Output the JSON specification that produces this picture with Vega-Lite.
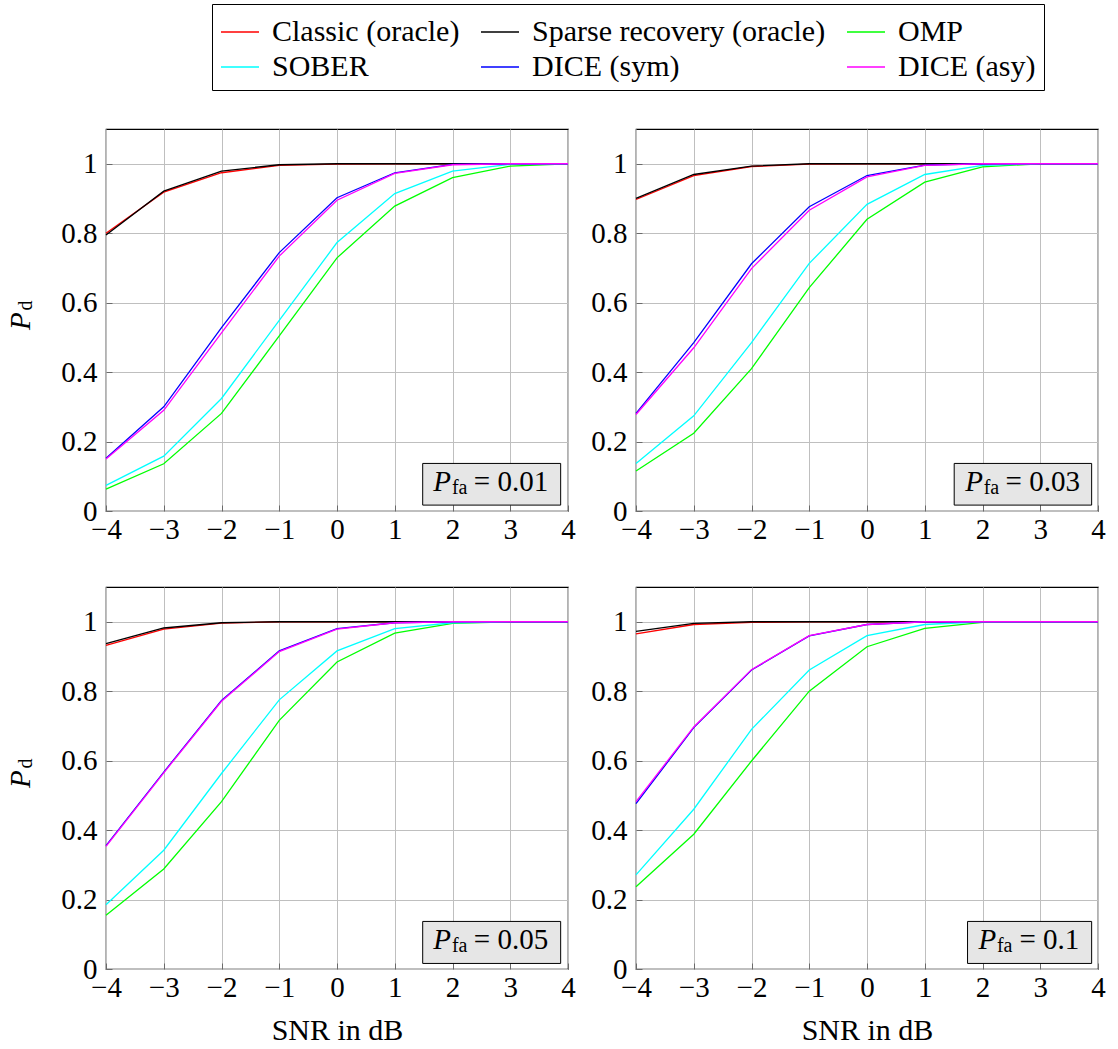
{
"$schema": "https://vega.github.io/schema/vega-lite/v6.json",
"autosize": {"type": "pad"},
"padding": {"left": 6, "top": 3, "right": 5, "bottom": 5},
"background": "white",
"config": {
  "font": "Liberation Serif",
  "view": {"stroke": "black", "strokeWidth": 1.2},
  "axis": {"grid": true, "gridColor": "#bfbfbf", "gridWidth": 1, "domain": false, "tickColor": "#6a6a6a", "tickSize": -6, "tickWidth": 1,
    "labelFont": "Liberation Serif", "labelFontSize": 29, "labelColor": "black", "labelFlush": false, "labelOverlap": false, "labelPadding": 10,
    "titleFont": "Liberation Serif", "titleFontSize": 30, "titleFontWeight": "normal", "titleColor": "black", "titlePadding": 13},
  "axisY": {"labelPadding": 15},
  "legend": {"labelFont": "Liberation Serif", "labelFontSize": 30, "labelColor": "black", "labelLimit": 600}
},
"data": {"name": "d"},
"datasets": {"d": [
{"pfa":"0.01","method":"Classic (oracle)","snr":-4,"pd":0.800},{"pfa":"0.01","method":"Classic (oracle)","snr":-3,"pd":0.918},{"pfa":"0.01","method":"Classic (oracle)","snr":-2,"pd":0.974},{"pfa":"0.01","method":"Classic (oracle)","snr":-1,"pd":0.995},{"pfa":"0.01","method":"Classic (oracle)","snr":0,"pd":0.999},{"pfa":"0.01","method":"Classic (oracle)","snr":1,"pd":1},{"pfa":"0.01","method":"Classic (oracle)","snr":2,"pd":1},{"pfa":"0.01","method":"Classic (oracle)","snr":3,"pd":1},{"pfa":"0.01","method":"Classic (oracle)","snr":4,"pd":1},
{"pfa":"0.01","method":"Sparse recovery (oracle)","snr":-4,"pd":0.795},{"pfa":"0.01","method":"Sparse recovery (oracle)","snr":-3,"pd":0.921},{"pfa":"0.01","method":"Sparse recovery (oracle)","snr":-2,"pd":0.979},{"pfa":"0.01","method":"Sparse recovery (oracle)","snr":-1,"pd":0.997},{"pfa":"0.01","method":"Sparse recovery (oracle)","snr":0,"pd":1},{"pfa":"0.01","method":"Sparse recovery (oracle)","snr":1,"pd":1},{"pfa":"0.01","method":"Sparse recovery (oracle)","snr":2,"pd":1},{"pfa":"0.01","method":"Sparse recovery (oracle)","snr":3,"pd":1},{"pfa":"0.01","method":"Sparse recovery (oracle)","snr":4,"pd":1},
{"pfa":"0.01","method":"OMP","snr":-4,"pd":0.063},{"pfa":"0.01","method":"OMP","snr":-3,"pd":0.136},{"pfa":"0.01","method":"OMP","snr":-2,"pd":0.281},{"pfa":"0.01","method":"OMP","snr":-1,"pd":0.504},{"pfa":"0.01","method":"OMP","snr":0,"pd":0.729},{"pfa":"0.01","method":"OMP","snr":1,"pd":0.878},{"pfa":"0.01","method":"OMP","snr":2,"pd":0.960},{"pfa":"0.01","method":"OMP","snr":3,"pd":0.993},{"pfa":"0.01","method":"OMP","snr":4,"pd":1},
{"pfa":"0.01","method":"SOBER","snr":-4,"pd":0.074},{"pfa":"0.01","method":"SOBER","snr":-3,"pd":0.158},{"pfa":"0.01","method":"SOBER","snr":-2,"pd":0.324},{"pfa":"0.01","method":"SOBER","snr":-1,"pd":0.549},{"pfa":"0.01","method":"SOBER","snr":0,"pd":0.773},{"pfa":"0.01","method":"SOBER","snr":1,"pd":0.914},{"pfa":"0.01","method":"SOBER","snr":2,"pd":0.979},{"pfa":"0.01","method":"SOBER","snr":3,"pd":0.998},{"pfa":"0.01","method":"SOBER","snr":4,"pd":1},
{"pfa":"0.01","method":"DICE (sym)","snr":-4,"pd":0.152},{"pfa":"0.01","method":"DICE (sym)","snr":-3,"pd":0.300},{"pfa":"0.01","method":"DICE (sym)","snr":-2,"pd":0.528},{"pfa":"0.01","method":"DICE (sym)","snr":-1,"pd":0.744},{"pfa":"0.01","method":"DICE (sym)","snr":0,"pd":0.902},{"pfa":"0.01","method":"DICE (sym)","snr":1,"pd":0.974},{"pfa":"0.01","method":"DICE (sym)","snr":2,"pd":0.998},{"pfa":"0.01","method":"DICE (sym)","snr":3,"pd":1},{"pfa":"0.01","method":"DICE (sym)","snr":4,"pd":1},
{"pfa":"0.01","method":"DICE (asy)","snr":-4,"pd":0.150},{"pfa":"0.01","method":"DICE (asy)","snr":-3,"pd":0.290},{"pfa":"0.01","method":"DICE (asy)","snr":-2,"pd":0.513},{"pfa":"0.01","method":"DICE (asy)","snr":-1,"pd":0.734},{"pfa":"0.01","method":"DICE (asy)","snr":0,"pd":0.895},{"pfa":"0.01","method":"DICE (asy)","snr":1,"pd":0.972},{"pfa":"0.01","method":"DICE (asy)","snr":2,"pd":0.997},{"pfa":"0.01","method":"DICE (asy)","snr":3,"pd":1},{"pfa":"0.01","method":"DICE (asy)","snr":4,"pd":1},

{"pfa":"0.03","method":"Classic (oracle)","snr":-4,"pd":0.897},{"pfa":"0.03","method":"Classic (oracle)","snr":-3,"pd":0.966},{"pfa":"0.03","method":"Classic (oracle)","snr":-2,"pd":0.992},{"pfa":"0.03","method":"Classic (oracle)","snr":-1,"pd":0.999},{"pfa":"0.03","method":"Classic (oracle)","snr":0,"pd":1},{"pfa":"0.03","method":"Classic (oracle)","snr":1,"pd":1},{"pfa":"0.03","method":"Classic (oracle)","snr":2,"pd":1},{"pfa":"0.03","method":"Classic (oracle)","snr":3,"pd":1},{"pfa":"0.03","method":"Classic (oracle)","snr":4,"pd":1},
{"pfa":"0.03","method":"Sparse recovery (oracle)","snr":-4,"pd":0.900},{"pfa":"0.03","method":"Sparse recovery (oracle)","snr":-3,"pd":0.969},{"pfa":"0.03","method":"Sparse recovery (oracle)","snr":-2,"pd":0.993},{"pfa":"0.03","method":"Sparse recovery (oracle)","snr":-1,"pd":1},{"pfa":"0.03","method":"Sparse recovery (oracle)","snr":0,"pd":1},{"pfa":"0.03","method":"Sparse recovery (oracle)","snr":1,"pd":1},{"pfa":"0.03","method":"Sparse recovery (oracle)","snr":2,"pd":1},{"pfa":"0.03","method":"Sparse recovery (oracle)","snr":3,"pd":1},{"pfa":"0.03","method":"Sparse recovery (oracle)","snr":4,"pd":1},
{"pfa":"0.03","method":"OMP","snr":-4,"pd":0.115},{"pfa":"0.03","method":"OMP","snr":-3,"pd":0.224},{"pfa":"0.03","method":"OMP","snr":-2,"pd":0.410},{"pfa":"0.03","method":"OMP","snr":-1,"pd":0.643},{"pfa":"0.03","method":"OMP","snr":0,"pd":0.840},{"pfa":"0.03","method":"OMP","snr":1,"pd":0.947},{"pfa":"0.03","method":"OMP","snr":2,"pd":0.991},{"pfa":"0.03","method":"OMP","snr":3,"pd":1},{"pfa":"0.03","method":"OMP","snr":4,"pd":1},
{"pfa":"0.03","method":"SOBER","snr":-4,"pd":0.137},{"pfa":"0.03","method":"SOBER","snr":-3,"pd":0.274},{"pfa":"0.03","method":"SOBER","snr":-2,"pd":0.485},{"pfa":"0.03","method":"SOBER","snr":-1,"pd":0.713},{"pfa":"0.03","method":"SOBER","snr":0,"pd":0.883},{"pfa":"0.03","method":"SOBER","snr":1,"pd":0.969},{"pfa":"0.03","method":"SOBER","snr":2,"pd":0.995},{"pfa":"0.03","method":"SOBER","snr":3,"pd":1},{"pfa":"0.03","method":"SOBER","snr":4,"pd":1},
{"pfa":"0.03","method":"DICE (sym)","snr":-4,"pd":0.281},{"pfa":"0.03","method":"DICE (sym)","snr":-3,"pd":0.485},{"pfa":"0.03","method":"DICE (sym)","snr":-2,"pd":0.712},{"pfa":"0.03","method":"DICE (sym)","snr":-1,"pd":0.876},{"pfa":"0.03","method":"DICE (sym)","snr":0,"pd":0.966},{"pfa":"0.03","method":"DICE (sym)","snr":1,"pd":0.996},{"pfa":"0.03","method":"DICE (sym)","snr":2,"pd":1},{"pfa":"0.03","method":"DICE (sym)","snr":3,"pd":1},{"pfa":"0.03","method":"DICE (sym)","snr":4,"pd":1},
{"pfa":"0.03","method":"DICE (asy)","snr":-4,"pd":0.278},{"pfa":"0.03","method":"DICE (asy)","snr":-3,"pd":0.470},{"pfa":"0.03","method":"DICE (asy)","snr":-2,"pd":0.698},{"pfa":"0.03","method":"DICE (asy)","snr":-1,"pd":0.866},{"pfa":"0.03","method":"DICE (asy)","snr":0,"pd":0.962},{"pfa":"0.03","method":"DICE (asy)","snr":1,"pd":0.995},{"pfa":"0.03","method":"DICE (asy)","snr":2,"pd":1},{"pfa":"0.03","method":"DICE (asy)","snr":3,"pd":1},{"pfa":"0.03","method":"DICE (asy)","snr":4,"pd":1},

{"pfa":"0.05","method":"Classic (oracle)","snr":-4,"pd":0.932},{"pfa":"0.05","method":"Classic (oracle)","snr":-3,"pd":0.979},{"pfa":"0.05","method":"Classic (oracle)","snr":-2,"pd":0.996},{"pfa":"0.05","method":"Classic (oracle)","snr":-1,"pd":1},{"pfa":"0.05","method":"Classic (oracle)","snr":0,"pd":1},{"pfa":"0.05","method":"Classic (oracle)","snr":1,"pd":1},{"pfa":"0.05","method":"Classic (oracle)","snr":2,"pd":1},{"pfa":"0.05","method":"Classic (oracle)","snr":3,"pd":1},{"pfa":"0.05","method":"Classic (oracle)","snr":4,"pd":1},
{"pfa":"0.05","method":"Sparse recovery (oracle)","snr":-4,"pd":0.937},{"pfa":"0.05","method":"Sparse recovery (oracle)","snr":-3,"pd":0.982},{"pfa":"0.05","method":"Sparse recovery (oracle)","snr":-2,"pd":0.997},{"pfa":"0.05","method":"Sparse recovery (oracle)","snr":-1,"pd":1},{"pfa":"0.05","method":"Sparse recovery (oracle)","snr":0,"pd":1},{"pfa":"0.05","method":"Sparse recovery (oracle)","snr":1,"pd":1},{"pfa":"0.05","method":"Sparse recovery (oracle)","snr":2,"pd":1},{"pfa":"0.05","method":"Sparse recovery (oracle)","snr":3,"pd":1},{"pfa":"0.05","method":"Sparse recovery (oracle)","snr":4,"pd":1},
{"pfa":"0.05","method":"OMP","snr":-4,"pd":0.155},{"pfa":"0.05","method":"OMP","snr":-3,"pd":0.288},{"pfa":"0.05","method":"OMP","snr":-2,"pd":0.482},{"pfa":"0.05","method":"OMP","snr":-1,"pd":0.716},{"pfa":"0.05","method":"OMP","snr":0,"pd":0.884},{"pfa":"0.05","method":"OMP","snr":1,"pd":0.967},{"pfa":"0.05","method":"OMP","snr":2,"pd":0.995},{"pfa":"0.05","method":"OMP","snr":3,"pd":1},{"pfa":"0.05","method":"OMP","snr":4,"pd":1},
{"pfa":"0.05","method":"SOBER","snr":-4,"pd":0.185},{"pfa":"0.05","method":"SOBER","snr":-3,"pd":0.342},{"pfa":"0.05","method":"SOBER","snr":-2,"pd":0.563},{"pfa":"0.05","method":"SOBER","snr":-1,"pd":0.775},{"pfa":"0.05","method":"SOBER","snr":0,"pd":0.916},{"pfa":"0.05","method":"SOBER","snr":1,"pd":0.980},{"pfa":"0.05","method":"SOBER","snr":2,"pd":0.997},{"pfa":"0.05","method":"SOBER","snr":3,"pd":1},{"pfa":"0.05","method":"SOBER","snr":4,"pd":1},
{"pfa":"0.05","method":"DICE (sym)","snr":-4,"pd":0.355},{"pfa":"0.05","method":"DICE (sym)","snr":-3,"pd":0.567},{"pfa":"0.05","method":"DICE (sym)","snr":-2,"pd":0.773},{"pfa":"0.05","method":"DICE (sym)","snr":-1,"pd":0.916},{"pfa":"0.05","method":"DICE (sym)","snr":0,"pd":0.980},{"pfa":"0.05","method":"DICE (sym)","snr":1,"pd":0.997},{"pfa":"0.05","method":"DICE (sym)","snr":2,"pd":1},{"pfa":"0.05","method":"DICE (sym)","snr":3,"pd":1},{"pfa":"0.05","method":"DICE (sym)","snr":4,"pd":1},
{"pfa":"0.05","method":"DICE (asy)","snr":-4,"pd":0.353},{"pfa":"0.05","method":"DICE (asy)","snr":-3,"pd":0.565},{"pfa":"0.05","method":"DICE (asy)","snr":-2,"pd":0.771},{"pfa":"0.05","method":"DICE (asy)","snr":-1,"pd":0.914},{"pfa":"0.05","method":"DICE (asy)","snr":0,"pd":0.979},{"pfa":"0.05","method":"DICE (asy)","snr":1,"pd":0.997},{"pfa":"0.05","method":"DICE (asy)","snr":2,"pd":1},{"pfa":"0.05","method":"DICE (asy)","snr":3,"pd":1},{"pfa":"0.05","method":"DICE (asy)","snr":4,"pd":1},

{"pfa":"0.1","method":"Classic (oracle)","snr":-4,"pd":0.965},{"pfa":"0.1","method":"Classic (oracle)","snr":-3,"pd":0.992},{"pfa":"0.1","method":"Classic (oracle)","snr":-2,"pd":0.998},{"pfa":"0.1","method":"Classic (oracle)","snr":-1,"pd":1},{"pfa":"0.1","method":"Classic (oracle)","snr":0,"pd":1},{"pfa":"0.1","method":"Classic (oracle)","snr":1,"pd":1},{"pfa":"0.1","method":"Classic (oracle)","snr":2,"pd":1},{"pfa":"0.1","method":"Classic (oracle)","snr":3,"pd":1},{"pfa":"0.1","method":"Classic (oracle)","snr":4,"pd":1},
{"pfa":"0.1","method":"Sparse recovery (oracle)","snr":-4,"pd":0.972},{"pfa":"0.1","method":"Sparse recovery (oracle)","snr":-3,"pd":0.995},{"pfa":"0.1","method":"Sparse recovery (oracle)","snr":-2,"pd":1},{"pfa":"0.1","method":"Sparse recovery (oracle)","snr":-1,"pd":1},{"pfa":"0.1","method":"Sparse recovery (oracle)","snr":0,"pd":1},{"pfa":"0.1","method":"Sparse recovery (oracle)","snr":1,"pd":1},{"pfa":"0.1","method":"Sparse recovery (oracle)","snr":2,"pd":1},{"pfa":"0.1","method":"Sparse recovery (oracle)","snr":3,"pd":1},{"pfa":"0.1","method":"Sparse recovery (oracle)","snr":4,"pd":1},
{"pfa":"0.1","method":"OMP","snr":-4,"pd":0.237},{"pfa":"0.1","method":"OMP","snr":-3,"pd":0.388},{"pfa":"0.1","method":"OMP","snr":-2,"pd":0.599},{"pfa":"0.1","method":"OMP","snr":-1,"pd":0.800},{"pfa":"0.1","method":"OMP","snr":0,"pd":0.928},{"pfa":"0.1","method":"OMP","snr":1,"pd":0.981},{"pfa":"0.1","method":"OMP","snr":2,"pd":0.998},{"pfa":"0.1","method":"OMP","snr":3,"pd":1},{"pfa":"0.1","method":"OMP","snr":4,"pd":1},
{"pfa":"0.1","method":"SOBER","snr":-4,"pd":0.271},{"pfa":"0.1","method":"SOBER","snr":-3,"pd":0.460},{"pfa":"0.1","method":"SOBER","snr":-2,"pd":0.690},{"pfa":"0.1","method":"SOBER","snr":-1,"pd":0.861},{"pfa":"0.1","method":"SOBER","snr":0,"pd":0.960},{"pfa":"0.1","method":"SOBER","snr":1,"pd":0.992},{"pfa":"0.1","method":"SOBER","snr":2,"pd":1},{"pfa":"0.1","method":"SOBER","snr":3,"pd":1},{"pfa":"0.1","method":"SOBER","snr":4,"pd":1},
{"pfa":"0.1","method":"DICE (sym)","snr":-4,"pd":0.476},{"pfa":"0.1","method":"DICE (sym)","snr":-3,"pd":0.695},{"pfa":"0.1","method":"DICE (sym)","snr":-2,"pd":0.861},{"pfa":"0.1","method":"DICE (sym)","snr":-1,"pd":0.959},{"pfa":"0.1","method":"DICE (sym)","snr":0,"pd":0.992},{"pfa":"0.1","method":"DICE (sym)","snr":1,"pd":1},{"pfa":"0.1","method":"DICE (sym)","snr":2,"pd":1},{"pfa":"0.1","method":"DICE (sym)","snr":3,"pd":1},{"pfa":"0.1","method":"DICE (sym)","snr":4,"pd":1},
{"pfa":"0.1","method":"DICE (asy)","snr":-4,"pd":0.482},{"pfa":"0.1","method":"DICE (asy)","snr":-3,"pd":0.697},{"pfa":"0.1","method":"DICE (asy)","snr":-2,"pd":0.862},{"pfa":"0.1","method":"DICE (asy)","snr":-1,"pd":0.960},{"pfa":"0.1","method":"DICE (asy)","snr":0,"pd":0.992},{"pfa":"0.1","method":"DICE (asy)","snr":1,"pd":1},{"pfa":"0.1","method":"DICE (asy)","snr":2,"pd":1},{"pfa":"0.1","method":"DICE (asy)","snr":3,"pd":1},{"pfa":"0.1","method":"DICE (asy)","snr":4,"pd":1}
]},
"bounds": "flush",
"columns": 2,
"spacing": {"row": 76, "column": 68},
"concat": [
  {"width": 462, "height": 382, "layer": [
   {"transform": [{"filter": "datum.pfa == '0.01'"}],
    "mark": {"type": "line", "strokeWidth": 1.3},
    "encoding": {
     "x": {"field": "snr", "type": "quantitative", "scale": {"domain": [-4, 4], "nice": false, "zero": false}, "axis": {"values": [-4,-3,-2,-1,0,1,2,3,4], "format": "~g", "title": null}},
     "y": {"field": "pd", "type": "quantitative", "scale": {"domain": [0, 1.1], "nice": false}, "axis": {"values": [0,0.2,0.4,0.6,0.8,1], "format": "~g", "title": null}},
     "color": {"field": "method", "type": "nominal", "scale": {"domain": ["Classic (oracle)","Sparse recovery (oracle)","OMP","SOBER","DICE (sym)","DICE (asy)"], "range": ["#ff0000","#000000","#00ff00","#00ffff","#0000ff","#ff00ff"]},
       "legend": {"title": null, "orient": "none", "legendX": 106, "legendY": -125, "columns": 3, "direction": "horizontal", "symbolType": "stroke", "symbolSize": 1444, "symbolStrokeWidth": 1.3, "labelOffset": 12, "columnPadding": 18, "rowPadding": 0, "padding": 8, "strokeColor": "black", "fillColor": "white"}}
    }},
   {"data": {"values": [{}]}, "mark": {"type": "rect", "fill": "#e6e6e6", "stroke": "black", "strokeWidth": 1},
    "encoding": {"x": {"datum": 1.484, "type": "quantitative"}, "x2": {"datum": 3.873}, "y": {"datum": 0.137, "type": "quantitative"}, "y2": {"datum": 0.017}}},
   {"data": {"values": [{}]}, "mark": {"type": "text", "text": "P", "fontStyle": "italic", "fontSize": 29, "align": "left", "baseline": "alphabetic", "color": "black"},
    "encoding": {"x": {"datum": 1.668, "type": "quantitative"}, "y": {"datum": 0.058, "type": "quantitative"}}},
   {"data": {"values": [{}]}, "mark": {"type": "text", "text": "fa", "fontSize": 20, "align": "left", "baseline": "alphabetic", "color": "black"},
    "encoding": {"x": {"datum": 1.99, "type": "quantitative"}, "y": {"datum": 0.049, "type": "quantitative"}}},
   {"data": {"values": [{}]}, "mark": {"type": "text", "text": "= 0.01", "fontSize": 29, "align": "left", "baseline": "alphabetic", "color": "black"},
    "encoding": {"x": {"datum": 2.37, "type": "quantitative"}, "y": {"datum": 0.058, "type": "quantitative"}}},
   {"data": {"values": [{}]}, "mark": {"type": "text", "text": "P", "fontStyle": "italic", "fontSize": 29, "angle": 270, "align": "center", "baseline": "alphabetic", "color": "black"},
    "encoding": {"x": {"datum": -5.32, "type": "quantitative"}, "y": {"datum": 0.547, "type": "quantitative"}}},
   {"data": {"values": [{}]}, "mark": {"type": "text", "text": "d", "fontSize": 20, "angle": 270, "align": "center", "baseline": "alphabetic", "color": "black"},
    "encoding": {"x": {"datum": -5.28, "type": "quantitative"}, "y": {"datum": 0.592, "type": "quantitative"}}}
  ]},
  {"width": 462, "height": 382, "layer": [
   {"transform": [{"filter": "datum.pfa == '0.03'"}],
    "mark": {"type": "line", "strokeWidth": 1.3},
    "encoding": {
     "x": {"field": "snr", "type": "quantitative", "scale": {"domain": [-4, 4], "nice": false, "zero": false}, "axis": {"values": [-4,-3,-2,-1,0,1,2,3,4], "format": "~g", "title": null}},
     "y": {"field": "pd", "type": "quantitative", "scale": {"domain": [0, 1.1], "nice": false}, "axis": {"values": [0,0.2,0.4,0.6,0.8,1], "format": "~g", "title": null}},
     "color": {"field": "method", "type": "nominal", "scale": {"domain": ["Classic (oracle)","Sparse recovery (oracle)","OMP","SOBER","DICE (sym)","DICE (asy)"], "range": ["#ff0000","#000000","#00ff00","#00ffff","#0000ff","#ff00ff"]},
       "legend": {"title": null, "orient": "none", "legendX": 106, "legendY": -125, "columns": 3, "direction": "horizontal", "symbolType": "stroke", "symbolSize": 1444, "symbolStrokeWidth": 1.3, "labelOffset": 12, "columnPadding": 18, "rowPadding": 0, "padding": 8, "strokeColor": "black", "fillColor": "white"}}
    }},
   {"data": {"values": [{}]}, "mark": {"type": "rect", "fill": "#e6e6e6", "stroke": "black", "strokeWidth": 1},
    "encoding": {"x": {"datum": 1.51, "type": "quantitative"}, "x2": {"datum": 3.89}, "y": {"datum": 0.137, "type": "quantitative"}, "y2": {"datum": 0.017}}},
   {"data": {"values": [{}]}, "mark": {"type": "text", "text": "P", "fontStyle": "italic", "fontSize": 29, "align": "left", "baseline": "alphabetic", "color": "black"},
    "encoding": {"x": {"datum": 1.70, "type": "quantitative"}, "y": {"datum": 0.058, "type": "quantitative"}}},
   {"data": {"values": [{}]}, "mark": {"type": "text", "text": "fa", "fontSize": 20, "align": "left", "baseline": "alphabetic", "color": "black"},
    "encoding": {"x": {"datum": 2.02, "type": "quantitative"}, "y": {"datum": 0.049, "type": "quantitative"}}},
   {"data": {"values": [{}]}, "mark": {"type": "text", "text": "= 0.03", "fontSize": 29, "align": "left", "baseline": "alphabetic", "color": "black"},
    "encoding": {"x": {"datum": 2.40, "type": "quantitative"}, "y": {"datum": 0.058, "type": "quantitative"}}}
  ]},
  {"width": 462, "height": 382, "layer": [
   {"transform": [{"filter": "datum.pfa == '0.05'"}],
    "mark": {"type": "line", "strokeWidth": 1.3},
    "encoding": {
     "x": {"field": "snr", "type": "quantitative", "scale": {"domain": [-4, 4], "nice": false, "zero": false}, "axis": {"values": [-4,-3,-2,-1,0,1,2,3,4], "format": "~g", "title": "SNR in dB"}},
     "y": {"field": "pd", "type": "quantitative", "scale": {"domain": [0, 1.1], "nice": false}, "axis": {"values": [0,0.2,0.4,0.6,0.8,1], "format": "~g", "title": null}},
     "color": {"field": "method", "type": "nominal", "scale": {"domain": ["Classic (oracle)","Sparse recovery (oracle)","OMP","SOBER","DICE (sym)","DICE (asy)"], "range": ["#ff0000","#000000","#00ff00","#00ffff","#0000ff","#ff00ff"]},
       "legend": {"title": null, "orient": "none", "legendX": 106, "legendY": -125, "columns": 3, "direction": "horizontal", "symbolType": "stroke", "symbolSize": 1444, "symbolStrokeWidth": 1.3, "labelOffset": 12, "columnPadding": 18, "rowPadding": 0, "padding": 8, "strokeColor": "black", "fillColor": "white"}}
    }},
   {"data": {"values": [{}]}, "mark": {"type": "rect", "fill": "#e6e6e6", "stroke": "black", "strokeWidth": 1},
    "encoding": {"x": {"datum": 1.484, "type": "quantitative"}, "x2": {"datum": 3.873}, "y": {"datum": 0.137, "type": "quantitative"}, "y2": {"datum": 0.016}}},
   {"data": {"values": [{}]}, "mark": {"type": "text", "text": "P", "fontStyle": "italic", "fontSize": 29, "align": "left", "baseline": "alphabetic", "color": "black"},
    "encoding": {"x": {"datum": 1.668, "type": "quantitative"}, "y": {"datum": 0.058, "type": "quantitative"}}},
   {"data": {"values": [{}]}, "mark": {"type": "text", "text": "fa", "fontSize": 20, "align": "left", "baseline": "alphabetic", "color": "black"},
    "encoding": {"x": {"datum": 1.99, "type": "quantitative"}, "y": {"datum": 0.049, "type": "quantitative"}}},
   {"data": {"values": [{}]}, "mark": {"type": "text", "text": "= 0.05", "fontSize": 29, "align": "left", "baseline": "alphabetic", "color": "black"},
    "encoding": {"x": {"datum": 2.37, "type": "quantitative"}, "y": {"datum": 0.058, "type": "quantitative"}}},
   {"data": {"values": [{}]}, "mark": {"type": "text", "text": "P", "fontStyle": "italic", "fontSize": 29, "angle": 270, "align": "center", "baseline": "alphabetic", "color": "black"},
    "encoding": {"x": {"datum": -5.32, "type": "quantitative"}, "y": {"datum": 0.547, "type": "quantitative"}}},
   {"data": {"values": [{}]}, "mark": {"type": "text", "text": "d", "fontSize": 20, "angle": 270, "align": "center", "baseline": "alphabetic", "color": "black"},
    "encoding": {"x": {"datum": -5.28, "type": "quantitative"}, "y": {"datum": 0.592, "type": "quantitative"}}}
  ]},
  {"width": 462, "height": 382, "layer": [
   {"transform": [{"filter": "datum.pfa == '0.1'"}],
    "mark": {"type": "line", "strokeWidth": 1.3},
    "encoding": {
     "x": {"field": "snr", "type": "quantitative", "scale": {"domain": [-4, 4], "nice": false, "zero": false}, "axis": {"values": [-4,-3,-2,-1,0,1,2,3,4], "format": "~g", "title": "SNR in dB"}},
     "y": {"field": "pd", "type": "quantitative", "scale": {"domain": [0, 1.1], "nice": false}, "axis": {"values": [0,0.2,0.4,0.6,0.8,1], "format": "~g", "title": null}},
     "color": {"field": "method", "type": "nominal", "scale": {"domain": ["Classic (oracle)","Sparse recovery (oracle)","OMP","SOBER","DICE (sym)","DICE (asy)"], "range": ["#ff0000","#000000","#00ff00","#00ffff","#0000ff","#ff00ff"]},
       "legend": {"title": null, "orient": "none", "legendX": 106, "legendY": -125, "columns": 3, "direction": "horizontal", "symbolType": "stroke", "symbolSize": 1444, "symbolStrokeWidth": 1.3, "labelOffset": 12, "columnPadding": 18, "rowPadding": 0, "padding": 8, "strokeColor": "black", "fillColor": "white"}}
    }},
   {"data": {"values": [{}]}, "mark": {"type": "rect", "fill": "#e6e6e6", "stroke": "black", "strokeWidth": 1},
    "encoding": {"x": {"datum": 1.741, "type": "quantitative"}, "x2": {"datum": 3.89}, "y": {"datum": 0.137, "type": "quantitative"}, "y2": {"datum": 0.016}}},
   {"data": {"values": [{}]}, "mark": {"type": "text", "text": "P", "fontStyle": "italic", "fontSize": 29, "align": "left", "baseline": "alphabetic", "color": "black"},
    "encoding": {"x": {"datum": 1.932, "type": "quantitative"}, "y": {"datum": 0.058, "type": "quantitative"}}},
   {"data": {"values": [{}]}, "mark": {"type": "text", "text": "fa", "fontSize": 20, "align": "left", "baseline": "alphabetic", "color": "black"},
    "encoding": {"x": {"datum": 2.25, "type": "quantitative"}, "y": {"datum": 0.049, "type": "quantitative"}}},
   {"data": {"values": [{}]}, "mark": {"type": "text", "text": "= 0.1", "fontSize": 29, "align": "left", "baseline": "alphabetic", "color": "black"},
    "encoding": {"x": {"datum": 2.64, "type": "quantitative"}, "y": {"datum": 0.058, "type": "quantitative"}}}
  ]}
]
}
